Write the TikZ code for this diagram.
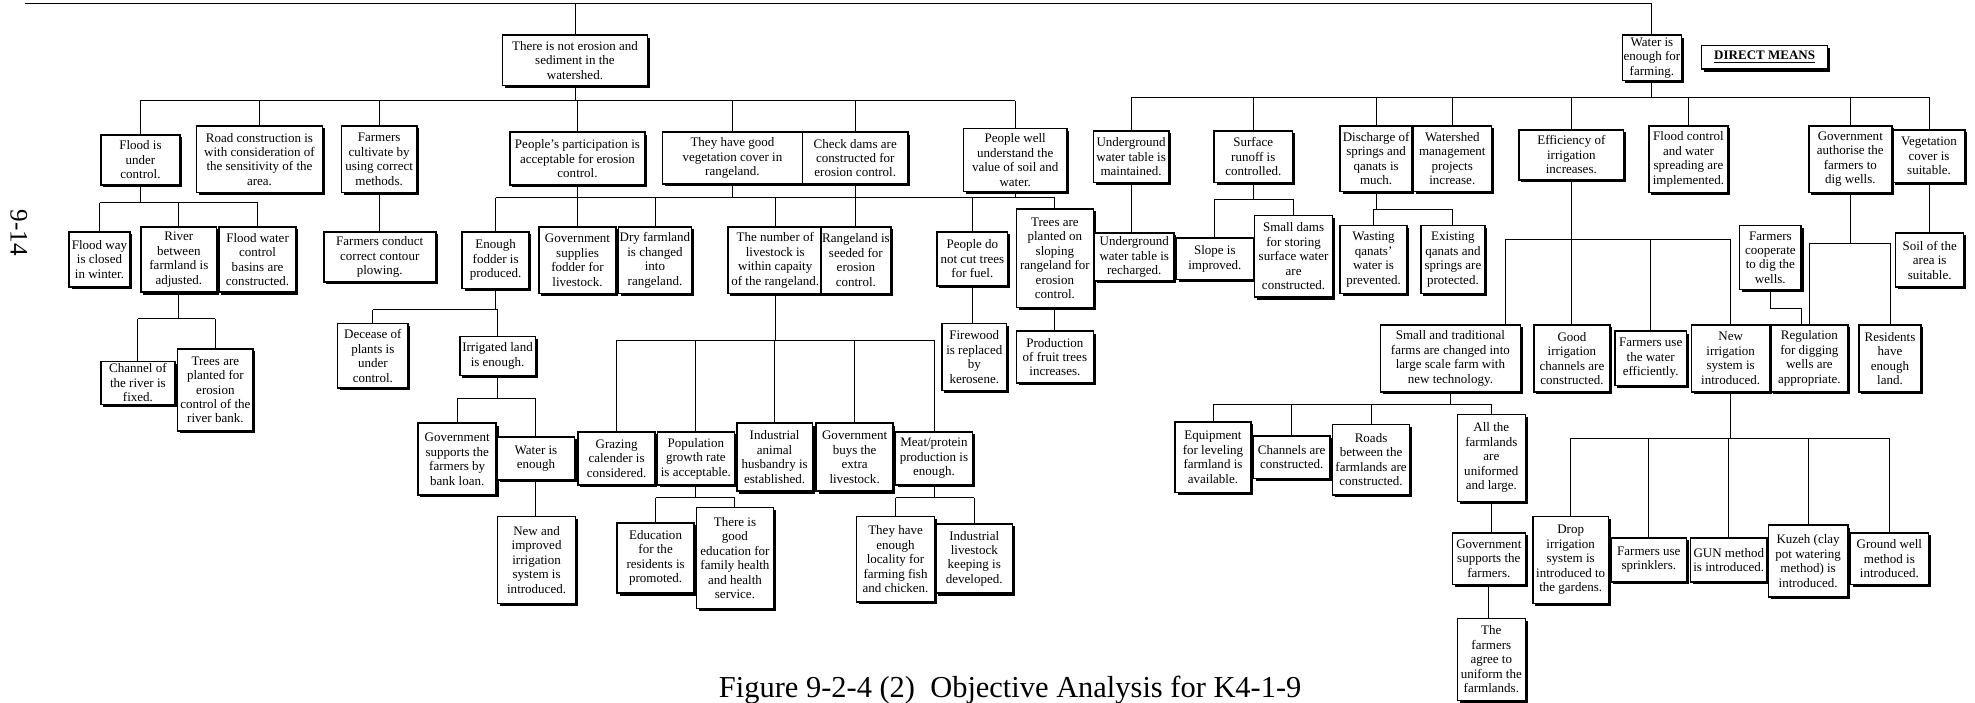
\documentclass[tikz,border=0pt]{standalone}
\usepackage{fontspec}
\setmainfont{Liberation Serif}
\usetikzlibrary{shadows}

% box given by its corners (x1,y1)-(x2,y2), y running downwards
\newcommand\objbox[6]{\node[box, minimum width={(#4-#2)*0.6pt}, minimum height={(#5-#3)*0.6pt}] (#1) at ({(#2+#4)/2},{(#3+#5)/2}) {#6};}
% vertical stubs from a node to a bus line
\newcommand\dropto[2]{\draw[conn] (#1.north) -- (#1.north |- #2);}
\newcommand\risefrom[2]{\draw[conn] (#1.south) -- (#1.south |- #2);}
\newcommand\busrun[3]{\draw[conn] (#1.north |- #3) -- (#2.north |- #3);}

\begin{document}
\begin{tikzpicture}[x=0.6pt,y=-0.6pt,
  box/.style={draw, line width=0.75pt, fill=white, inner sep=0.5pt, align=center,
    font=\fontsize{6.2}{6.9}\selectfont,
    drop shadow={shadow xshift=1.1pt, shadow yshift=-1.1pt, opacity=1, fill=black}},
  conn/.style={line width=0.45pt}]
\useasboundingbox (0,0) rectangle (1568,558);

% ---------- top goals ----------
\objbox{notErosion}{399}{28}{514}{68}{There is not erosion and\\sediment in the\\watershed.}
\objbox{water}{1288}{28}{1335}{64}{Water is\\enough for\\farming.}
\objbox{direct}{1351}{36}{1451}{55}{\textbf{\underline{DIRECT MEANS}}}

% ---------- second row ----------
\objbox{flood}{80}{107}{143}{147}{Flood is\\under\\control.}
\objbox{road}{156}{100}{256}{153}{Road construction is\\with consideration of\\the sensitivity of the\\area.}
\objbox{cultiv}{271}{100}{331}{153}{Farmers\\cultivate by\\using correct\\methods.}
\objbox{particip}{405}{105}{512}{147}{People's participation is\\acceptable for erosion\\control.}
\objbox{vegcov}{526}{105}{637}{146}{They have good\\vegetation cover in\\rangeland.}
\objbox{check}{637}{105}{721}{146}{Check dams are\\constructed for\\erosion control.}
\objbox{understand}{765}{102}{847}{152}{People well\\understand the\\value of soil and\\water.}
\objbox{uwmaint}{868}{104}{928}{145}{Underground\\water table is\\maintained.}
\objbox{surface}{964}{104}{1026}{145}{Surface\\runoff is\\controlled.}
\objbox{discharge}{1064}{100}{1121}{152}{Discharge of\\springs and\\qanats is\\much.}
\objbox{watershed}{1122}{100}{1184}{152}{Watershed\\management\\projects\\increase.}
\objbox{effic}{1206}{103}{1289}{143}{Efficiency of\\irrigation\\increases.}
\objbox{floodctl}{1309}{100}{1372}{153}{Flood control\\and water\\spreading are\\implemented.}
\objbox{govauth}{1436}{100}{1502}{153}{Government\\authorise the\\farmers to\\dig wells.}
\objbox{vegsuit}{1503}{103}{1560}{145}{Vegetation\\cover is\\suitable.}

% ---------- third row ----------
\objbox{floodway}{55}{184}{103}{228}{Flood way\\is closed\\in winter.}
\objbox{river}{112}{180}{172}{232}{River\\between\\farmland is\\adjusted.}
\objbox{floodbasin}{174}{180}{235}{232}{Flood water\\control\\basins are\\constructed.}
\objbox{contour}{257}{184}{346}{224}{Farmers conduct\\correct contour\\plowing.}
\objbox{fodder}{367}{184}{420}{229}{Enough\\fodder is\\produced.}
\objbox{govfodder}{428}{180}{489}{233}{Government\\supplies\\fodder for\\livestock.}
\objbox{dryfarm}{491}{180}{549}{233}{Dry farmland\\is changed\\into\\rangeland.}
\objbox{nlivestock}{578}{180}{653}{233}{The number of\\livestock is\\within capaity\\of the rangeland.}
\objbox{rangeseed}{653}{180}{706}{233}{Rangeland is\\seeded for\\erosion\\control.}
\objbox{nocut}{744}{184}{800}{227}{People do\\not cut trees\\for fuel.}
\objbox{slopetrees}{807}{166}{868}{244}{Trees are\\planted on\\sloping\\rangeland for\\erosion\\control.}
\objbox{uwrech}{869}{185}{932}{223}{Underground\\water table is\\recharged.}
\objbox{slope}{934}{189}{995}{222}{Slope is\\improved.}
\objbox{smalldams}{996}{171}{1058}{236}{Small dams\\for storing\\surface water\\are\\constructed.}
\objbox{wasting}{1064}{179}{1117}{233}{Wasting\\qanats'\\water is\\prevented.}
\objbox{existing}{1128}{179}{1179}{233}{Existing\\qanats and\\springs are\\protected.}
\objbox{cooperate}{1381}{179}{1430}{230}{Farmers\\cooperate\\to dig the\\wells.}
\objbox{soil}{1505}{185}{1559}{228}{Soil of the\\area is\\suitable.}

% ---------- fourth row ----------
\objbox{channel}{80}{287}{139}{321}{Channel of\\the river is\\fixed.}
\objbox{riverbank}{141}{277}{201}{342}{Trees are\\planted for\\erosion\\control of the\\river bank.}
\objbox{decease}{268}{257}{324}{308}{Decease of\\plants is\\under\\control.}
\objbox{irrigland}{365}{267}{425}{298}{Irrigated land\\is enough.}
\objbox{firewood}{748}{257}{799}{310}{Firewood\\is replaced\\by\\kerosene.}
\objbox{fruit}{807}{263}{868}{304}{Production\\of fruit trees\\increases.}
\objbox{smalltrad}{1096}{258}{1207}{311}{Small and traditional\\farms are changed into\\large scale farm with\\new technology.}
\objbox{goodirr}{1218}{258}{1278}{311}{Good\\irrigation\\channels are\\constructed.}
\objbox{useeff}{1282}{263}{1339}{306}{Farmers use\\the water\\efficiently.}
\objbox{newirr}{1343}{258}{1405}{311}{New\\irrigation\\system is\\introduced.}
\objbox{regul}{1406}{258}{1467}{311}{Regulation\\for digging\\wells are\\appropriate.}
\objbox{residents}{1476}{258}{1525}{311}{Residents\\have\\enough\\land.}

% ---------- fifth row ----------
\objbox{bankloan}{332}{336}{394}{393}{Government\\supports the\\farmers by\\bank loan.}
\objbox{wateren}{395}{347}{456}{381}{Water is\\enough}
\objbox{grazing}{459}{343}{520}{385}{Grazing\\calender is\\considered.}
\objbox{population}{522}{343}{583}{385}{Population\\growth rate\\is acceptable.}
\objbox{industrial}{585}{336}{645}{390}{Industrial\\animal\\husbandry is\\established.}
\objbox{govbuys}{648}{336}{709}{390}{Government\\buys the\\extra\\livestock.}
\objbox{meat}{711}{343}{772}{385}{Meat/protein\\production is\\enough.}
\objbox{equip}{933}{335}{993}{391}{Equipment\\for leveling\\farmland is\\available.}
\objbox{channels}{995}{346}{1056}{380}{Channels are\\constructed.}
\objbox{roads}{1058}{337}{1119}{393}{Roads\\between the\\farmlands are\\constructed.}
\objbox{allfarm}{1157}{329}{1211}{398}{All the\\farmlands\\are\\uniformed\\and large.}

% ---------- sixth row ----------
\objbox{newimpr}{395}{410}{457}{479}{New and\\improved\\irrigation\\system is\\introduced.}
\objbox{education}{490}{415}{551}{471}{Education\\for the\\residents is\\promoted.}
\objbox{goodedu}{553}{403}{614}{483}{There is\\good\\education for\\family health\\and health\\service.}
\objbox{locality}{680}{410}{742}{478}{They have\\enough\\locality for\\farming fish\\and chicken.}
\objbox{indlive}{743}{416}{804}{471}{Industrial\\livestock\\keeping is\\developed.}
\objbox{govsupp}{1153}{423}{1211}{464}{Government\\supports the\\farmers.}
\objbox{drop}{1217}{410}{1277}{479}{Drop\\irrigation\\system is\\introduced to\\the gardens.}
\objbox{sprink}{1279}{427}{1339}{462}{Farmers use\\sprinklers.}
\objbox{gun}{1342}{427}{1403}{462}{GUN method\\is introduced.}
\objbox{kuzeh}{1404}{417}{1467}{474}{Kuzeh (clay\\pot watering\\method) is\\introduced.}
\objbox{groundwell}{1469}{423}{1531}{464}{Ground well\\method is\\introduced.}
\objbox{agree}{1157}{491}{1211}{556}{The\\farmers\\agree to\\uniform the\\farmlands.}

% ---------- page number and caption ----------
\node[rotate=-90, font=\fontsize{12}{14}\selectfont] (pageno) at (15,185) {9-14};
\node[font=\fontsize{14.5}{16}\selectfont] (caption) at (802,548) {Figure 9-2-4 (2)\ \ Objective Analysis for K4-1-9};

% ---------- bus lines ----------
\coordinate (bTop) at (20,3);
\coordinate (bL) at (0,80);
\coordinate (bR) at (0,77);
\coordinate (bFlood) at (0,161);
\coordinate (bRiver) at (0,253);
\coordinate (bMid) at (0,157);
\coordinate (bFodder) at (0,246);
\coordinate (bIrrig) at (0,316);
\coordinate (bLive) at (0,270);
\coordinate (bPop) at (0,395);
\coordinate (bMeat) at (0,395);
\coordinate (bSurf) at (0,158);
\coordinate (bDisch) at (0,166);
\coordinate (bEff) at (0,190);
\coordinate (bGov) at (0,193);
\coordinate (bTrad) at (0,321);
\coordinate (bNew) at (0,348);

% top level
\draw[conn] (bTop) -- (water.north |- bTop);
\draw[conn] (notErosion.north) -- (notErosion.north |- bTop);
\draw[conn] (water.north) -- (water.north |- bTop);

% erosion branch
\risefrom{notErosion}{bL}
\busrun{flood}{understand}{bL}
\foreach \c in {flood,road,cultiv,particip,vegcov,check,understand} {\dropto{\c}{bL}}

\risefrom{flood}{bFlood}
\busrun{floodway}{floodbasin}{bFlood}
\foreach \c in {floodway,river,floodbasin} {\dropto{\c}{bFlood}}

\risefrom{river}{bRiver}
\busrun{channel}{riverbank}{bRiver}
\foreach \c in {channel,riverbank} {\dropto{\c}{bRiver}}

\draw[conn] (cultiv.south) -- (cultiv.south |- contour.north);

\foreach \p in {particip,vegcov,understand} {\risefrom{\p}{bMid}}
\draw[conn] (check.south) -- (check.south |- rangeseed.north);
\busrun{fodder}{slopetrees}{bMid}
\foreach \c in {fodder,govfodder,dryfarm,nlivestock,nocut,slopetrees} {\dropto{\c}{bMid}}

\risefrom{fodder}{bFodder}
\busrun{decease}{irrigland}{bFodder}
\foreach \c in {decease,irrigland} {\dropto{\c}{bFodder}}

\risefrom{irrigland}{bIrrig}
\busrun{bankloan}{wateren}{bIrrig}
\foreach \c in {bankloan,wateren} {\dropto{\c}{bIrrig}}
\draw[conn] (wateren.south) -- (wateren.south |- newimpr.north);

\risefrom{nlivestock}{bLive}
\busrun{grazing}{meat}{bLive}
\foreach \c in {grazing,population,industrial,govbuys,meat} {\dropto{\c}{bLive}}

\risefrom{population}{bPop}
\busrun{education}{goodedu}{bPop}
\foreach \c in {education,goodedu} {\dropto{\c}{bPop}}

\risefrom{meat}{bMeat}
\busrun{locality}{indlive}{bMeat}
\foreach \c in {locality,indlive} {\dropto{\c}{bMeat}}

\draw[conn] (nocut.south) -- (nocut.south |- firewood.north);
\draw[conn] (slopetrees.south) -- (slopetrees.south |- fruit.north);

% water branch
\risefrom{water}{bR}
\busrun{uwmaint}{vegsuit}{bR}
\foreach \c in {uwmaint,surface,discharge,watershed,effic,floodctl,govauth,vegsuit} {\dropto{\c}{bR}}

\draw[conn] (uwmaint.south) -- (uwmaint.south |- uwrech.north);

\risefrom{surface}{bSurf}
\busrun{slope}{smalldams}{bSurf}
\foreach \c in {slope,smalldams} {\dropto{\c}{bSurf}}

\risefrom{discharge}{bDisch}
\busrun{wasting}{existing}{bDisch}
\foreach \c in {wasting,existing} {\dropto{\c}{bDisch}}

\coordinate (stIn) at ([xshift=26.1pt]smalltrad.north);
\draw[conn] (effic.south) -- (effic.south |- goodirr.north);
\draw[conn] (stIn |- bEff) -- (newirr.north |- bEff);
\draw[conn] (stIn) -- (stIn |- bEff);
\foreach \c in {useeff,newirr} {\dropto{\c}{bEff}}

\risefrom{govauth}{bGov}
\busrun{regul}{residents}{bGov}
\foreach \c in {regul,residents} {\dropto{\c}{bGov}}
\coordinate (rgIn) at ([xshift=-3.9pt]regul.north);
\draw[conn] (cooperate.south) -- ++(0,14) -| (rgIn);

\draw[conn] (vegsuit.south) -- (vegsuit.south |- soil.north);

\risefrom{smalltrad}{bTrad}
\busrun{equip}{allfarm}{bTrad}
\foreach \c in {equip,channels,roads,allfarm} {\dropto{\c}{bTrad}}
\draw[conn] (allfarm.south) -- (allfarm.south |- govsupp.north);
\draw[conn] (govsupp.south) -- (govsupp.south |- agree.north);

\risefrom{newirr}{bNew}
\busrun{drop}{groundwell}{bNew}
\foreach \c in {drop,sprink,gun,kuzeh,groundwell} {\dropto{\c}{bNew}}
\end{tikzpicture}
\end{document}
